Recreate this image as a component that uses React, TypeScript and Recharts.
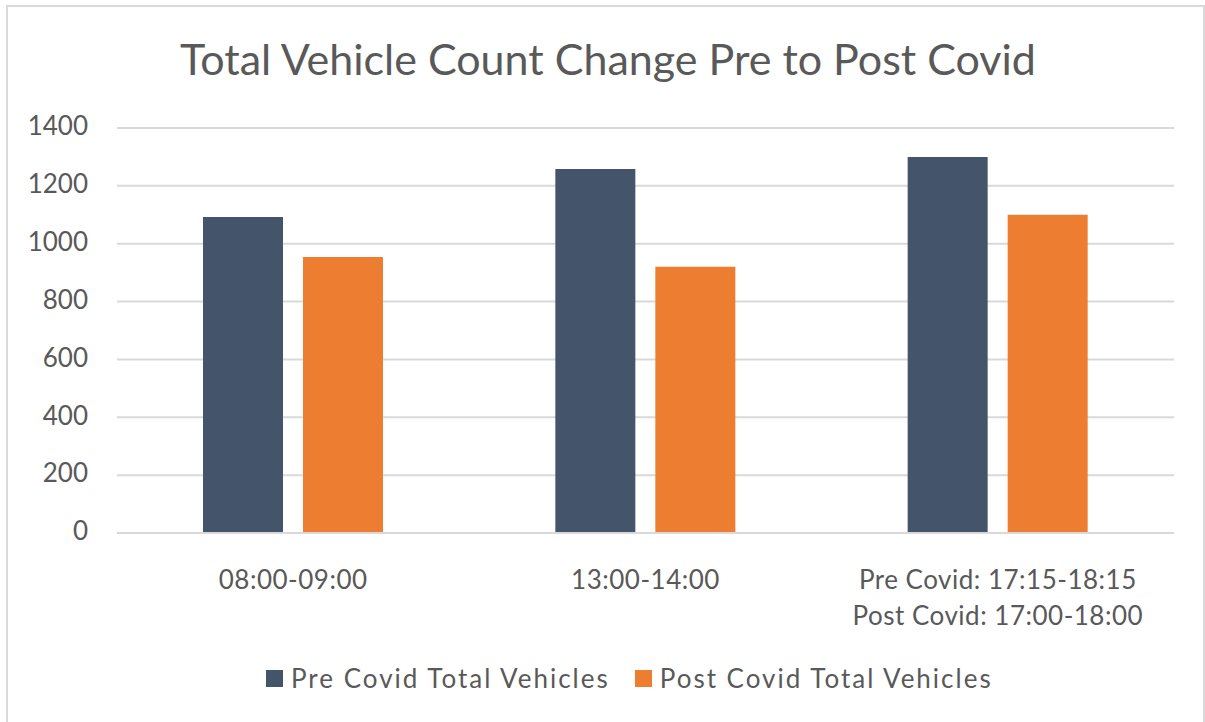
import { BarChart, Bar, XAxis, YAxis, CartesianGrid } from "recharts";

/** Time windows on the x axis; "\n" splits a label over two lines. */
const CATEGORIES = [
  "08:00-09:00",
  "13:00-14:00",
  "Pre Covid: 17:15-18:15\nPost Covid: 17:00-18:00",
];

/** Vehicle counts. */
const PRE_COVID = [1092, 1258, 1300];
const POST_COVID = [954, 920, 1100];

const Y_TICKS = [0, 200, 400, 600, 800, 1000, 1200, 1400];

const SERIES_NAMES = ["Pre Covid Total Vehicles", "Post Covid Total Vehicles"];

const PRE_COLOR = "#44546A";
const POST_COLOR = "#ED7D31";
const TEXT_COLOR = "#595959";
const GRID_COLOR = "#D9D9D9";
const FONT = "Lato, 'Open Sans', sans-serif";

const chartData = CATEGORIES.map((name, i) => ({
  name,
  pre: PRE_COVID[i],
  post: POST_COVID[i],
}));

/** Multi-line category label under the x axis. */
function CategoryTick({ x, y, payload }: { x?: number; y?: number; payload?: { value: string } }) {
  const lines = String(payload?.value ?? "").split("\n");
  return (
    <text
      x={x}
      y={y}
      textAnchor="middle"
      fill={TEXT_COLOR}
      fontSize={26}
      fontFamily={FONT}
      letterSpacing={0.5}
    >
      {lines.map((line, i) => (
        <tspan key={i} x={x} dy={i === 0 ? 48 : 36}>
          {line}
        </tspan>
      ))}
    </text>
  );
}

export default function App() {
  return (
    <div
      style={{
        position: "absolute",
        left: 0,
        top: 0,
        width: 1205,
        height: 722,
        overflow: "hidden",
        background: "#fff",
        fontFamily: FONT,
      }}
    >
      <div
        style={{
          position: "absolute",
          left: 6,
          top: 5,
          width: 1195,
          height: 740,
          border: `2px solid ${GRID_COLOR}`,
        }}
      />
      <div
        style={{
          position: "absolute",
          left: 0,
          top: 34,
          width: 1216,
          textAlign: "center",
          fontSize: 43,
          color: TEXT_COLOR,
          lineHeight: "50px",
        }}
      >
        Total Vehicle Count Change Pre to Post Covid
      </div>

      <BarChart
        width={1205}
        height={722}
        data={chartData}
        margin={{ top: 128, right: 31, bottom: 0, left: 0 }}
        barGap={20}
        style={{ position: "absolute", left: 0, top: 0 }}
      >
        <CartesianGrid vertical={false} stroke={GRID_COLOR} strokeWidth={2} />
        <XAxis
          dataKey="name"
          tick={<CategoryTick />}
          tickLine={false}
          axisLine={{ stroke: GRID_COLOR, strokeWidth: 2 }}
          interval={0}
          height={189}
        />
        <YAxis
          width={117}
          domain={[0, 1400]}
          ticks={Y_TICKS}
          tickSize={0}
          tickMargin={29}
          tickLine={false}
          axisLine={false}
          tick={{ fill: TEXT_COLOR, fontSize: 26, fontFamily: FONT, dy: -2 }}
        />
        <Bar dataKey="pre" fill={PRE_COLOR} barSize={80} isAnimationActive={false} />
        <Bar dataKey="post" fill={POST_COLOR} barSize={80} isAnimationActive={false} />
      </BarChart>

      <div
        style={{
          position: "absolute",
          left: 266,
          top: 662,
          display: "flex",
          alignItems: "center",
          fontSize: 26,
          color: TEXT_COLOR,
          letterSpacing: 2,
          whiteSpace: "nowrap",
        }}
      >
        {SERIES_NAMES.map((name, i) => (
          <div key={name} style={{ display: "flex", alignItems: "center", marginRight: i === 0 ? 25 : 0 }}>
            <span
              style={{
                display: "inline-block",
                width: 17,
                height: 17,
                background: i === 0 ? PRE_COLOR : POST_COLOR,
                marginRight: 8,
              }}
            />
            <span>{name}</span>
          </div>
        ))}
      </div>
    </div>
  );
}
